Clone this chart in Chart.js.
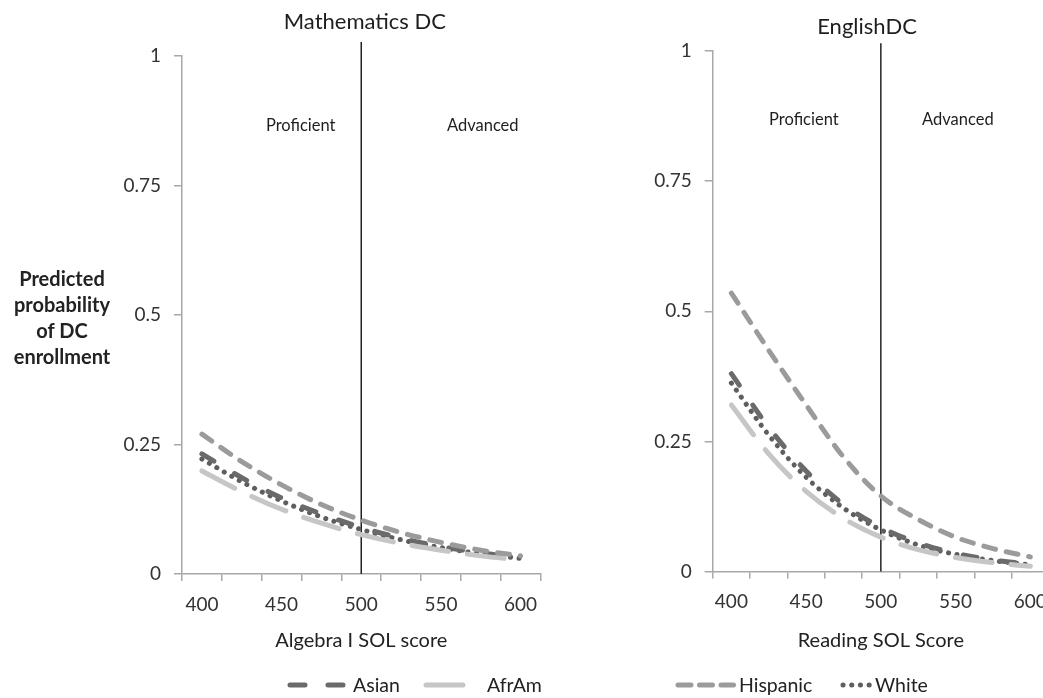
<!DOCTYPE html>
<html>
<head>
<meta charset="utf-8">
<title>Predicted probability of DC enrollment</title>
<script src="https://cdn.jsdelivr.net/npm/chart.js@4.4.0/dist/chart.umd.min.js"></script>
<style>
  html, body { margin: 0; padding: 0; background: #fff; width: 1043px; height: 698px; overflow: hidden; }
  body { position: relative; font-family: Lato, sans-serif; color: #222; }
  #mathBox { position: absolute; left: 0; top: 0; }
  #engBox { position: absolute; left: 560px; top: 0; }
  #yLabel { position: absolute; left: 2px; top: 265px; width: 120px; text-align: center;
            font-weight: bold; font-size: 20px; line-height: 26px; }
  .legItem { position: absolute; top: 673px; height: 24px; line-height: 24px; font-size: 19.5px; white-space: nowrap; }
  .legMark { position: absolute; top: 673px; }
</style>
</head>
<body>
<canvas id="mathBox" width="560" height="698"></canvas>
<canvas id="engBox" width="540" height="698"></canvas>
<div id="yLabel">Predicted<br>probability<br>of DC<br>enrollment</div>
<div id="legend"></div>

<script>
// scores on the x axis (one category per 25 points)
const scores = [400, 425, 450, 475, 500, 525, 550, 575, 600];
const xTickLabels = [400, 450, 500, 550, 600];
const yTickValues = [0, 0.25, 0.5, 0.75, 1];
const cutScore = '500';

// Mathematics DC - predicted probabilities
const mathAsian    = [0.232, 0.186, 0.147, 0.116, 0.090, 0.069, 0.053, 0.041, 0.031];
const mathAfrAm    = [0.199, 0.159, 0.125, 0.098, 0.076, 0.059, 0.046, 0.035, 0.027];
const mathHispanic = [0.270, 0.217, 0.172, 0.134, 0.104, 0.080, 0.061, 0.046, 0.035];
const mathWhite    = [0.222, 0.178, 0.141, 0.110, 0.086, 0.066, 0.051, 0.039, 0.030];

// English DC - predicted probabilities
const engAsian    = [0.380, 0.277, 0.193, 0.129, 0.085, 0.055, 0.035, 0.022, 0.014];
const engAfrAm    = [0.320, 0.226, 0.154, 0.102, 0.066, 0.042, 0.027, 0.017, 0.010];
const engHispanic = [0.535, 0.425, 0.320, 0.220, 0.145, 0.100, 0.066, 0.044, 0.028];
const engWhite    = [0.362, 0.262, 0.181, 0.122, 0.080, 0.051, 0.033, 0.021, 0.013];

// look of each group
const groupStyles = {
  Asian:    { color: '#6a6a6a', dash: [14, 24] },
  AfrAm:    { color: '#c6c6c6', dash: [37, 19] },
  Hispanic: { color: '#9b9b9b', dash: [12, 11] },
  White:    { color: '#5e5e5e', dash: [0.1, 8.5] }
};

const FONT = 'Lato, sans-serif';
const AXIS_COLOR = '#a8a8a8';

// text drawn inside the plot, placed with the chart's own scales
const notesPlugin = {
  id: 'notes',
  afterDatasetsDraw(chart, args, opts) {
    const ctx = chart.ctx;
    const x = chart.scales.x, y = chart.scales.y;
    ctx.save();
    ctx.textAlign = 'center';
    ctx.textBaseline = 'middle';
    ctx.fillStyle = '#1e1e1e';
    (opts.items || []).forEach(n => {
      ctx.font = n.size + 'px ' + FONT;
      ctx.fillText(n.text, x.getPixelForValue(n.x), y.getPixelForValue(n.y));
    });
    ctx.restore();
  }
};

function series(label, values) {
  const st = groupStyles[label];
  return {
    label: label,
    data: values,
    borderColor: st.color,
    borderWidth: 5,
    borderDash: st.dash,
    borderCapStyle: 'round',
    cubicInterpolationMode: 'monotone',
    pointRadius: 0,
    fill: false
  };
}

function makeChart(canvasId, cfg) {
  const datasets = [
    series('AfrAm', cfg.afram),
    series('Hispanic', cfg.hispanic),
    series('Asian', cfg.asian),
    series('White', cfg.white),
    {
      // cut score line between Proficient and Advanced
      label: 'cut',
      data: [{ x: cutScore, y: 0 }, { x: cutScore, y: cfg.cutTop }],
      borderColor: '#222',
      borderWidth: 1.5,
      pointRadius: 0,
      clip: false
    }
  ];

  return new Chart(document.getElementById(canvasId), {
    type: 'line',
    data: { labels: scores.map(String), datasets: datasets },
    options: {
      responsive: false,
      animation: false,
      devicePixelRatio: 1,
      layout: { padding: { top: cfg.padTop, right: cfg.padRight, bottom: 0, left: 0 } },
      plugins: {
        legend: { display: false },
        tooltip: { enabled: false },
        notes: { items: cfg.notes }
      },
      scales: {
        x: {
          type: 'category',
          offset: true,
          grid: { offset: true, drawOnChartArea: false, drawTicks: true, tickLength: 7, color: AXIS_COLOR, lineWidth: 1.5 },
          border: { color: AXIS_COLOR, width: 1.5 },
          ticks: {
            autoSkip: false, maxRotation: 0, padding: 12, color: '#333',
            font: { family: FONT, size: 19 },
            callback: (v, i) => xTickLabels.includes(scores[i]) ? String(scores[i]) : ''
          },
          title: {
            display: true, text: cfg.xTitle, color: '#222',
            font: { family: FONT, size: 20 },
            padding: { top: 0, bottom: 45 }
          },
          afterFit: s => { s.height = cfg.xAxisHeight; }
        },
        y: {
          min: 0, max: 1,
          afterBuildTicks: s => { s.ticks = yTickValues.map(v => ({ value: v })); },
          grid: { drawOnChartArea: false, drawTicks: true, tickLength: 8, color: AXIS_COLOR, lineWidth: 1.5 },
          border: { color: AXIS_COLOR, width: 1.5 },
          ticks: {
            padding: 13, color: '#333',
            font: { family: FONT, size: 19 },
            callback: v => String(v)
          },
          afterFit: s => { s.width = cfg.yAxisWidth; }
        }
      }
    },
    plugins: [notesPlugin]
  });
}

function buildLegend() {
  // marker and text positions along the bottom row
  const items = [
    { name: 'Asian',    x1: 289.5, x2: 342.5, textX: 353 },
    { name: 'AfrAm',    x1: 425.5, x2: 462.5, textX: 487 },
    { name: 'Hispanic', x1: 677.5, x2: 733,   textX: 739 },
    { name: 'White',    x1: 842.5, x2: 869,   textX: 875 }
  ];
  const box = document.getElementById('legend');
  items.forEach(it => {
    const st = groupStyles[it.name];
    const w = it.x2 - it.x1 + 10;
    const svg = document.createElementNS('http://www.w3.org/2000/svg', 'svg');
    svg.setAttribute('class', 'legMark');
    svg.setAttribute('width', w);
    svg.setAttribute('height', 24);
    svg.style.left = (it.x1 - 5) + 'px';
    const line = document.createElementNS('http://www.w3.org/2000/svg', 'line');
    line.setAttribute('x1', 5);
    line.setAttribute('x2', w - 5);
    line.setAttribute('y1', 12);
    line.setAttribute('y2', 12);
    line.setAttribute('stroke', st.color);
    line.setAttribute('stroke-width', 5);
    line.setAttribute('stroke-linecap', 'round');
    if (it.name !== 'AfrAm') line.setAttribute('stroke-dasharray', it.name === 'Asian' ? '15 23' : it.name === 'Hispanic' ? '13 8.5' : '0.1 8.6');
    svg.appendChild(line);
    box.appendChild(svg);

    const label = document.createElement('div');
    label.className = 'legItem';
    label.style.left = it.textX + 'px';
    label.textContent = it.name;
    box.appendChild(label);
  });
}

function init() {
  makeChart('mathBox', {
    asian: mathAsian, afram: mathAfrAm, hispanic: mathHispanic, white: mathWhite,
    xTitle: 'Algebra I SOL score',
    yAxisWidth: 182, xAxisHeight: 124, padTop: 56, padRight: 19.5,
    cutTop: 1.027,
    notes: [
      { text: 'Mathematics DC', x: 4.09, y: 1.066, size: 22 },
      { text: 'Proficient', x: 2.48, y: 0.865, size: 16.5 },
      { text: 'Advanced', x: 7.05, y: 0.865, size: 16.5 }
    ]
  });
  makeChart('engBox', {
    asian: engAsian, afram: engAfrAm, hispanic: engHispanic, white: engWhite,
    xTitle: 'Reading SOL Score',
    yAxisWidth: 152.7, xAxisHeight: 126.5, padTop: 51, padRight: 51,
    cutTop: 1.015,
    notes: [
      { text: 'EnglishDC', x: 3.63, y: 1.046, size: 22 },
      { text: 'Proficient', x: 1.94, y: 0.869, size: 16.5 },
      { text: 'Advanced', x: 6.06, y: 0.869, size: 16.5 }
    ]
  });
  buildLegend();
}

document.addEventListener('DOMContentLoaded', function() {
  if (document.fonts && document.fonts.load) {
    Promise.all([document.fonts.load('20px Lato'), document.fonts.load('bold 20px Lato')])
      .then(init, init);
  } else {
    init();
  }
});
</script>
</body>
</html>
